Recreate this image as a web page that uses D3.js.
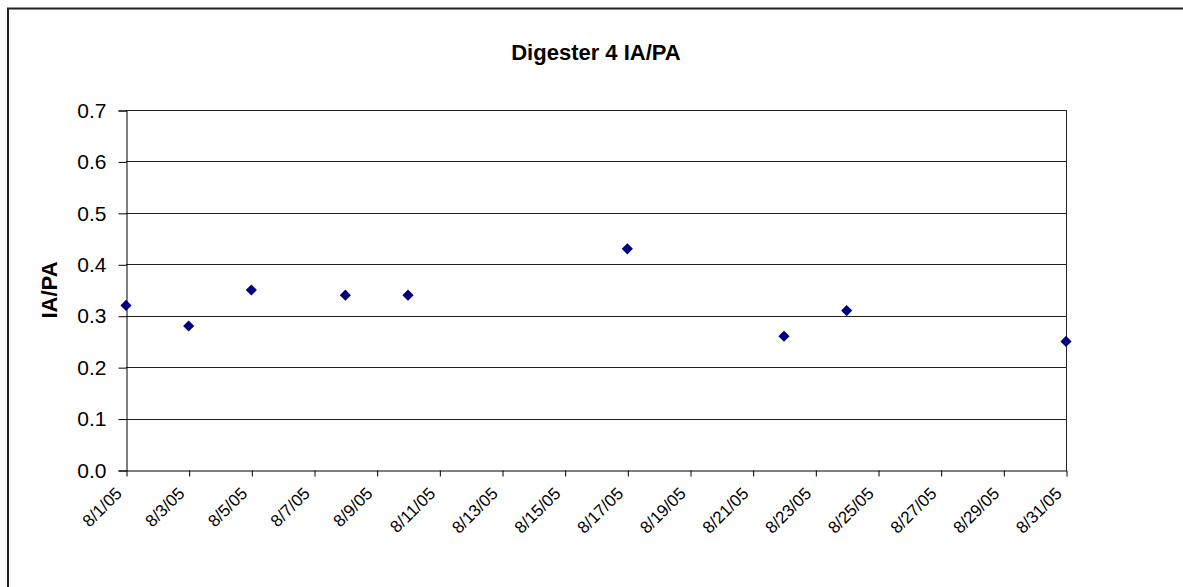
<!DOCTYPE html>
<html>
<head>
<meta charset="utf-8">
<script src="https://cdn.jsdelivr.net/npm/d3@7"></script>
<style>
  html, body { margin: 0; padding: 0; background: #fff; }
  svg { display: block; }
  text { font-family: "Liberation Sans", Arial, sans-serif; fill: #000; }
</style>
</head>
<body>
<script>
// ---- data ----
const chartTitle = "Digester 4 IA/PA";
const yAxisTitle = "IA/PA";
const dates = ["2005-08-01", "2005-08-03", "2005-08-05", "2005-08-08", "2005-08-10",
               "2005-08-17", "2005-08-22", "2005-08-24", "2005-08-31"];
const values = [0.32, 0.28, 0.35, 0.34, 0.34, 0.43, 0.26, 0.31, 0.25];
const xTickDates = ["2005-08-01", "2005-08-03", "2005-08-05", "2005-08-07", "2005-08-09",
                    "2005-08-11", "2005-08-13", "2005-08-15", "2005-08-17", "2005-08-19",
                    "2005-08-21", "2005-08-23", "2005-08-25", "2005-08-27", "2005-08-29",
                    "2005-08-31"];
const yTicks = [0, 0.1, 0.2, 0.3, 0.4, 0.5, 0.6, 0.7];

const W = 1183, H = 587;
const parse = d3.utcParse("%Y-%m-%d");
const fmt = d3.utcFormat("%-m/%-d/%y");

const svg = d3.select("body").append("svg").attr("width", W).attr("height", H);

// outer chart border (extends past the window)
svg.append("rect")
  .attr("x", 8).attr("y", 8.5).attr("width", W + 20).attr("height", H + 20)
  .attr("fill", "#fff").attr("stroke", "#222").attr("stroke-width", 2);

const x = d3.scaleUtc()
  .domain([parse("2005-08-01"), parse("2005-08-31")])
  .range([126, 1066]);
const y = d3.scaleLinear().domain([0, 0.7]).range([470, 110]);

// gridlines
svg.append("g").selectAll("line").data(yTicks.filter(d => d > 0)).join("line")
  .attr("x1", x.range()[0]).attr("x2", x.range()[1])
  .attr("y1", d => Math.round(y(d)) + 0.5).attr("y2", d => Math.round(y(d)) + 0.5)
  .attr("stroke", "#222").attr("stroke-width", 1);

// right border of plot area
svg.append("line")
  .attr("x1", x.range()[1] + 0.5).attr("x2", x.range()[1] + 0.5)
  .attr("y1", y(0.7)).attr("y2", y(0) + 0.5)
  .attr("stroke", "#222");

// y axis
const yAxis = d3.axisLeft(y).tickValues(yTicks).tickFormat(d3.format(".1f")).tickSize(8).tickPadding(12);
const gy = svg.append("g").attr("transform", `translate(${x.range()[0] + 0.5},0.5)`).call(yAxis);
gy.selectAll("path.domain").attr("stroke", "#000");
gy.selectAll(".tick line").attr("stroke", "#000");
gy.selectAll("text").attr("font-size", 21).attr("font-family", "Liberation Sans, Arial, sans-serif");

// x axis
const xAxis = d3.axisBottom(x).tickValues(xTickDates.map(parse)).tickFormat(fmt).tickSize(6).tickSizeOuter(0);
const gx = svg.append("g").attr("transform", `translate(0.5,${y(0) + 0.5})`).call(xAxis);
gx.selectAll("path.domain").attr("stroke", "#000");
gx.selectAll(".tick line").attr("stroke", "#000");
gx.selectAll("text")
  .attr("font-size", 17).attr("font-family", "Liberation Sans, Arial, sans-serif")
  .attr("text-anchor", "end")
  .attr("dy", null).attr("y", null)
  .attr("transform", "translate(-4,24) rotate(-45)");

// points (diamonds)
svg.append("g").selectAll("path").data(values).join("path")
  .attr("d", d3.symbol().type(d3.symbolSquare).size(62))
  .attr("transform", (d, i) => `translate(${x(parse(dates[i]))},${y(d)}) rotate(45)`)
  .attr("fill", "#000080");

// title
svg.append("text")
  .attr("x", 596).attr("y", 60)
  .attr("text-anchor", "middle")
  .attr("font-size", 22).attr("font-weight", "bold")
  .text(chartTitle);

// y axis title
svg.append("text")
  .attr("transform", `translate(57,${(y(0) + y(0.7)) / 2}) rotate(-90)`)
  .attr("text-anchor", "middle")
  .attr("font-size", 22).attr("font-weight", "bold")
  .text(yAxisTitle);
</script>
</body>
</html>
